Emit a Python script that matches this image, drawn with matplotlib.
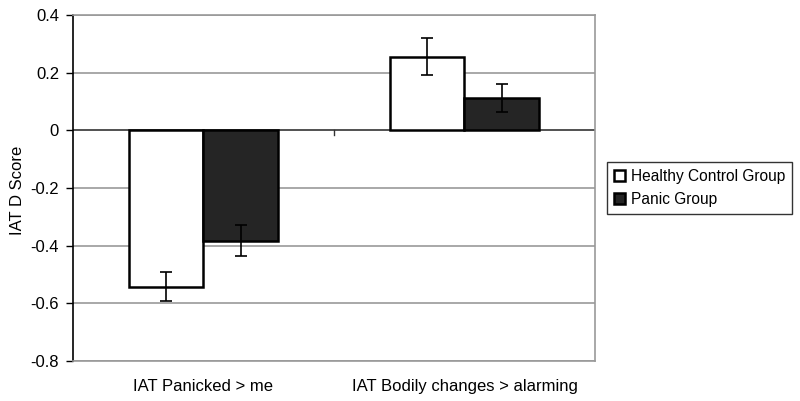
import matplotlib
matplotlib.use("Agg")
import matplotlib.pyplot as plt
import numpy as np

plt.rcParams['font.family'] = ['Liberation Sans', 'DejaVu Sans']

categories = ["IAT Panicked > me", "IAT Bodily changes > alarming"]
series = ["Healthy Control Group", "Panic Group"]
healthy = [-0.543, 0.255]
panic = [-0.383, 0.113]
healthy_err = [0.050, 0.064]
panic_err = [0.054, 0.048]
yticks = [0.4, 0.2, 0, -0.2, -0.4, -0.6, -0.8]
ytick_labels = ["0.4", "0.2", "0", "-0.2", "-0.4", "-0.6", "-0.8"]

fig = plt.figure(figsize=(8.0, 4.01), dpi=100)
ax = fig.add_axes([73/800, 1 - 361/401, (595-73)/800, (361-15)/401])

x = np.arange(len(categories))
w = 1/3.5
ax.bar(x - w/2, healthy, w, color='white', edgecolor='black', linewidth=1.8, label=series[0], zorder=3)
ax.bar(x + w/2, panic, w, color='#252525', edgecolor='black', linewidth=1.8, label=series[1], zorder=3)
ax.errorbar(x - w/2, healthy, yerr=healthy_err, fmt='none', ecolor='black', elinewidth=1.2, capsize=4, capthick=1.2, zorder=4)
ax.errorbar(x + w/2, panic, yerr=panic_err, fmt='none', ecolor='black', elinewidth=1.2, capsize=4, capthick=1.2, zorder=4)

ax.set_xlim(-0.5, 1.5)
ax.set_ylim(-0.8, 0.4)
ax.set_yticks(yticks)
ax.set_yticklabels(ytick_labels, fontsize=12)
for t in yticks:
    if t != 0:
        ax.axhline(t, color='#999999', linewidth=1.2, zorder=1)
ax.axhline(0, color='#333333', linewidth=1.2, zorder=2)
# category boundary tick on zero line
ax.plot([0.5, 0.5], [0, -0.015], color='#333333', linewidth=1.0, zorder=2)
ax.set_xticks([])
for i, c in enumerate(categories):
    ax.text(i, -0.889, c, ha='center', va='center', fontsize=12)

ax.spines['left'].set_color('black')
ax.spines['left'].set_linewidth(1.2)
for s in ['top', 'bottom', 'right']:
    ax.spines[s].set_color('#999999')
    ax.spines[s].set_linewidth(1.2)
ax.tick_params(axis='y', direction='out', length=5, width=1.0, color='black', pad=5)
fig.text(18/800, 1 - 190/401, "IAT D Score", rotation=90, ha='center', va='center', fontsize=12)

leg = ax.legend(loc='upper left', bbox_to_anchor=(607/800, 1 - 162/401), bbox_transform=fig.transFigure,
                fontsize=11.2, frameon=True, fancybox=False, edgecolor='black', handlelength=0.7,
                handleheight=0.7, handletextpad=0.4, borderpad=0.45, labelspacing=0.5, borderaxespad=0)
leg.get_frame().set_linewidth(1.0)

fig.savefig("out.png", dpi=100)
